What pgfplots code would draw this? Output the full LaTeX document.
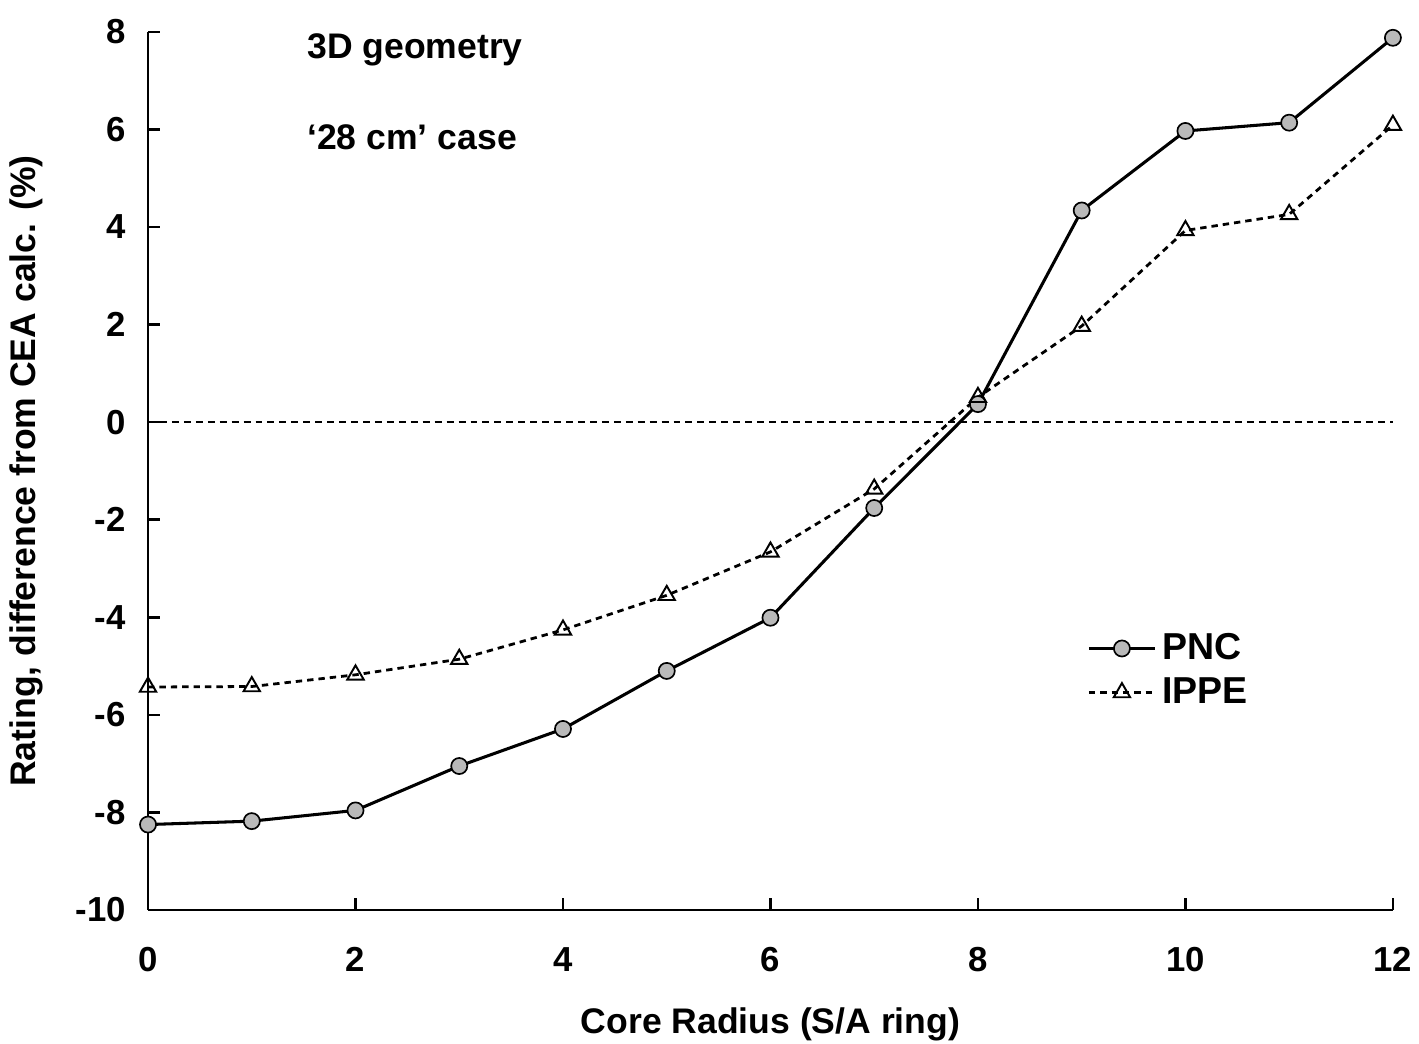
\documentclass[border=0pt]{standalone}
\usepackage{pgfplots}
\pgfplotsset{compat=1.18}
\usepackage{fontspec}
\setmainfont{Liberation Sans}
\begin{document}
\begin{tikzpicture}
\path[use as bounding box] (-53.3pt,-48.2pt) rectangle (457.6pt,327.6pt);
\begin{axis}[
  at={(0,0)}, anchor=south west,
  scale only axis, width=448.2pt, height=316.1pt,
  xmin=0, xmax=12, ymin=-10, ymax=8,
  axis x line=bottom, axis y line=left,
  axis line style={-, line width=0.9pt},
  tick align=inside, major tick length=4.3pt,
  tick style={line width=0.9pt, black},
  xtick={0,2,...,12}, ytick={-10,-8,...,8},
  xticklabels={0,2,4,6,8,10,12},
  yticklabels={-10,-8,-6,-4,-2,0,2,4,6,8},
  ticklabel style={font=\fontsize{12.5}{15}\selectfont\bfseries},
  xticklabel style={yshift=-10pt},
  yticklabel style={xshift=-4.5pt},
  xlabel={Core Radius (S/A ring)},
  ylabel={Rating, difference from CEA calc. (\%)},
  label style={font=\fontsize{12.8}{15}\selectfont\bfseries},
  xlabel style={yshift=-6pt},
  ylabel style={yshift=5pt},
  clip=false,
  legend style={draw=none, fill=none, at={(0.754,0.322)}, anchor=north west,
    font=\fontsize{13.5}{16}\selectfont\bfseries, row sep=1pt,
    inner xsep=0pt, inner ysep=0pt},
  legend cell align=left,
  legend image code/.code={\draw[#1, mark repeat=2, mark phase=2] plot coordinates {(0cm,0cm) (0.42cm,0cm) (0.84cm,0cm)};},
]
\addplot[black, line width=0.8pt, dash pattern=on 2.5pt off 1.8pt, forget plot] coordinates {(0,0) (12,0)};
\addplot[black, line width=1.1pt, mark=*, mark size=2.9pt, mark options={fill=gray!55, draw=black, line width=0.6pt, solid}] coordinates {
(0,-8.25) (1,-8.18) (2,-7.96) (3,-7.05) (4,-6.29) (5,-5.10) (6,-4.01) (7,-1.76) (8,0.37) (9,4.34) (10,5.97) (11,6.14) (12,7.88)};
\addlegendentry{PNC}
\addplot[black, line width=1pt, dash pattern=on 2.3pt off 1.8pt, mark=triangle, mark size=3.4pt, mark options={fill=white, draw=black, line width=0.7pt, solid}] coordinates {
(0,-5.43) (1,-5.42) (2,-5.18) (3,-4.86) (4,-4.26) (5,-3.55) (6,-2.66) (7,-1.37) (8,0.51) (9,1.97) (10,3.93) (11,4.26) (12,6.09)};
\addlegendentry{IPPE}
\node[anchor=west, inner sep=0pt, font=\fontsize{12.8}{15}\selectfont\bfseries] at (axis cs:1.53,7.64) {3D geometry};
\node[anchor=west, inner sep=0pt, font=\fontsize{12.8}{15}\selectfont\bfseries] at (axis cs:1.53,5.84) {‘28 cm’ case};
\end{axis}
\end{tikzpicture}
\end{document}
